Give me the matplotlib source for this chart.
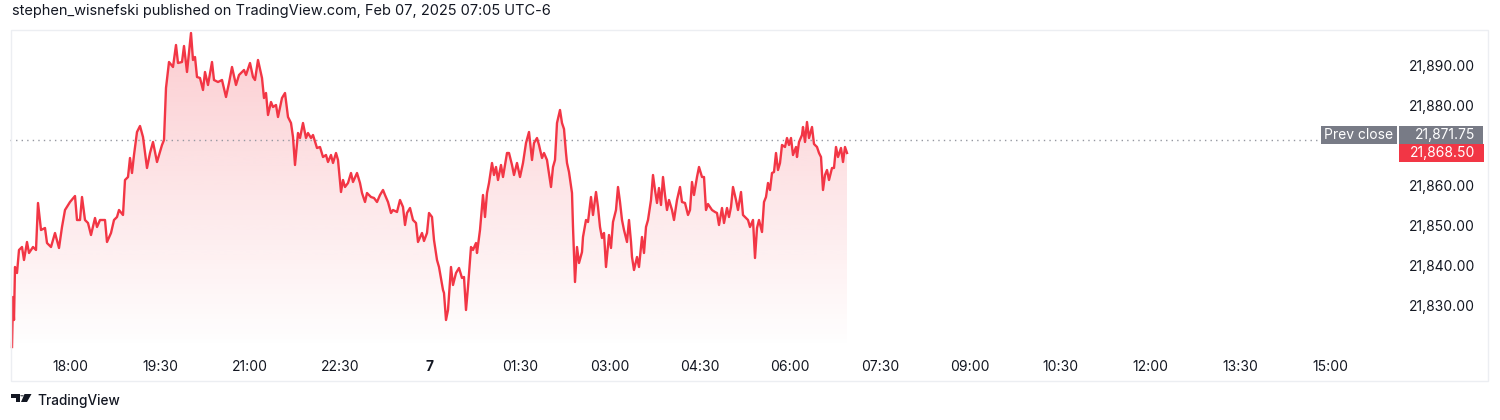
import numpy as np
import matplotlib.pyplot as plt
from matplotlib.patches import Rectangle, Polygon, Circle
from matplotlib.transforms import blended_transform_factory

plt.rcParams['font.family'] = ['Inter', 'DejaVu Sans']

# minutes since 17:00 (Feb 06) and the traded price
minutes = [2, 3, 4, 5, 7, 9, 12, 14, 17, 19, 23, 26, 28, 31, 35, 37, 41, 45, 49, 52,
           55, 60, 65, 67, 70, 72, 75, 78, 81, 85, 87, 90, 95, 97, 101, 104, 107, 109, 113, 115,
           118, 120, 122, 124, 127, 130, 133, 137, 140, 143, 147, 152, 154, 156, 159, 163, 166, 168, 172, 174,
           177, 181, 183, 185, 187, 190, 193, 195, 198, 202, 204, 208, 212, 216, 219, 222, 226, 229, 234, 236,
           240, 243, 245, 248, 252, 254, 256, 258, 261, 263, 266, 268, 272, 275, 278, 281, 283, 285, 288, 290,
           293, 296, 298, 301, 303, 307, 310, 313, 316, 318, 321, 323, 326, 328, 331, 333, 335, 338, 341, 343,
           347, 350, 352, 355, 357, 361, 364, 367, 370, 373, 375, 378, 381, 383, 387, 390, 393, 395, 397, 400,
           403, 406, 408, 412, 414, 417, 419, 422, 424, 427, 429, 433, 434, 436, 438, 441, 443, 446, 449, 452,
           454, 456, 458, 461, 463, 466, 467, 470, 473, 475, 477, 479, 482, 484, 486, 488, 491, 493, 497, 499,
           502, 504, 507, 510, 513, 516, 519, 522, 524, 527, 529, 532, 534, 537, 538, 541, 543, 545, 547, 550,
           552, 554, 556, 557, 559, 562, 563, 565, 567, 569, 572, 573, 576, 578, 581, 583, 586, 588, 590, 592,
           594, 596, 599, 601, 603, 606, 608, 610, 612, 614, 617, 619, 621, 622, 624, 627, 629, 632, 634, 636,
           638, 641, 643, 645, 647, 649, 651, 653, 655, 657, 659, 662, 664, 667, 670, 672, 675, 678, 680, 682,
           684, 687, 689, 692, 694, 696, 698, 702, 705, 707, 709, 712, 714, 717, 719, 721, 723, 726, 728, 731,
           733, 736, 738, 740, 743, 745, 747, 749, 752, 754, 756, 758, 760, 762, 764, 766, 768, 770, 772, 775,
           777, 779, 781, 783, 786, 787, 789, 792, 793, 795, 797, 799, 802, 804, 807, 809, 811, 813, 815, 817,
           819, 822, 824, 826, 828, 831, 833, 835, 837]
price = [21820.0, 21832.5, 21826.75, 21840.0, 21838.5, 21844.25, 21845.0, 21841.75, 21846.25, 21843.5,
         21845.0, 21844.25, 21856.0, 21849.25, 21849.75, 21846.0, 21845.0, 21848.5, 21844.75, 21850.0,
         21854.25, 21856.25, 21857.75, 21851.75, 21851.75, 21857.5, 21851.75, 21851.0, 21848.0, 21852.25,
         21850.0, 21851.75, 21851.75, 21846.25, 21848.5, 21851.75, 21852.5, 21854.25, 21853.0, 21861.75,
         21862.5, 21867.25, 21863.5, 21868.0, 21873.75, 21875.25, 21872.5, 21864.75, 21868.5, 21871.25,
         21866.25, 21870.5, 21871.75, 21884.75, 21891.25, 21890.0, 21895.5, 21891.0, 21891.25, 21895.25,
         21888.75, 21898.5, 21891.75, 21892.5, 21887.5, 21887.25, 21884.25, 21888.75, 21885.5, 21891.25,
         21886.75, 21886.25, 21886.75, 21882.5, 21886.0, 21890.0, 21885.5, 21888.0, 21889.25, 21888.0,
         21891.0, 21887.5, 21886.75, 21891.75, 21887.25, 21882.25, 21883.5, 21878.0, 21881.25, 21880.0,
         21880.5, 21877.5, 21882.25, 21883.5, 21877.5, 21876.0, 21872.5, 21865.5, 21873.5, 21872.25,
         21876.0, 21872.25, 21873.5, 21872.25, 21873.0, 21869.75, 21870.0, 21867.5, 21868.0, 21866.25,
         21868.0, 21866.0, 21868.5, 21866.75, 21858.75, 21861.75, 21860.0, 21861.0, 21863.5, 21861.25,
         21863.5, 21861.0, 21858.5, 21856.25, 21858.5, 21857.5, 21857.25, 21856.25, 21858.0, 21859.25,
         21858.0, 21856.25, 21853.5, 21854.25, 21853.75, 21856.75, 21855.0, 21850.5, 21853.5, 21854.75,
         21851.75, 21851.0, 21846.25, 21848.5, 21846.5, 21848.5, 21853.5, 21852.5, 21846.75, 21841.75,
         21840.0, 21834.25, 21833.5, 21826.75, 21829.25, 21840.0, 21835.5, 21838.5, 21839.75, 21837.25,
         21837.5, 21829.25, 21835.0, 21845.0, 21844.25, 21846.0, 21843.5, 21849.25, 21858.0, 21852.5,
         21858.5, 21861.0, 21866.0, 21863.0, 21865.0, 21861.75, 21865.5, 21862.5, 21868.5, 21868.5,
         21865.5, 21863.0, 21866.0, 21862.5, 21866.0, 21871.0, 21873.75, 21866.75, 21871.0, 21872.25,
         21870.5, 21867.25, 21868.5, 21866.75, 21865.0, 21860.0, 21865.0, 21866.75, 21876.0, 21879.25,
         21876.0, 21874.5, 21868.5, 21866.0, 21863.75, 21858.5, 21850.0, 21836.25, 21845.0, 21841.0,
         21843.75, 21847.5, 21851.75, 21851.25, 21857.5, 21853.0, 21858.75, 21855.0, 21850.0, 21847.25,
         21848.5, 21840.0, 21848.0, 21844.75, 21851.25, 21854.25, 21860.0, 21856.25, 21851.75, 21849.25,
         21846.25, 21851.75, 21846.25, 21842.5, 21839.25, 21842.5, 21840.0, 21847.5, 21843.5, 21850.0,
         21851.75, 21856.75, 21863.0, 21859.25, 21856.0, 21859.75, 21855.5, 21862.5, 21858.0, 21854.25,
         21856.75, 21854.25, 21851.75, 21856.75, 21860.0, 21856.25, 21856.0, 21853.0, 21854.25, 21861.25,
         21858.0, 21862.5, 21865.0, 21862.5, 21862.5, 21854.25, 21855.75, 21854.25, 21853.75, 21853.5,
         21850.5, 21854.75, 21851.0, 21854.75, 21852.5, 21855.0, 21860.0, 21856.75, 21854.25, 21858.75,
         21853.0, 21852.25, 21851.75, 21850.0, 21851.75, 21842.25, 21849.75, 21851.75, 21848.75, 21856.25,
         21857.5, 21861.0, 21859.25, 21863.5, 21863.75, 21868.5, 21864.25, 21866.0, 21870.5, 21870.0,
         21872.25, 21870.5, 21872.25, 21868.0, 21870.0, 21867.5, 21871.25, 21873.0, 21875.0, 21871.25,
         21876.25, 21872.25, 21875.0, 21870.75, 21870.0, 21868.5, 21867.5, 21859.25, 21863.0, 21864.25,
         21861.75, 21864.75, 21864.75, 21870.0, 21867.5, 21869.75, 21866.25, 21870.0, 21868.5]

prev_close = 21871.75
last_price = 21868.50
price_ticks = [21830, 21840, 21850, 21860, 21880, 21890]  # 21870 sits behind the labels
time_ticks = [60, 150, 240, 330, 420, 510, 600, 690, 780, 870, 960, 1050, 1140, 1230, 1320]
time_labels = ['18:00', '19:30', '21:00', '22:30', '7', '01:30', '03:00', '04:30', '06:00',
               '07:30', '09:00', '10:30', '12:00', '13:30', '15:00']

RED = '#F23645'
TXT = '#131722'
GREY = '#787B86'
W, H = 1500, 420


def fx(px):
    return px / W


def fy(py):
    return 1 - py / H


fig = plt.figure(figsize=(15, 4.2), dpi=100)
fig.patch.set_facecolor('white')

ax = fig.add_axes([fx(10), fy(349), fx(1397) - fx(10), fy(30) - fy(349)])
ylo, yhi = 21819.5, 21899.25
ax.set_xlim(0, 1387)
ax.set_ylim(ylo, yhi)
ax.axis('off')

# gradient fill under the line
verts = np.vstack([[minutes[0], ylo], np.column_stack([minutes, price]), [minutes[-1], ylo]])
clip = Polygon(verts, closed=True, facecolor='none', edgecolor='none')
ax.add_patch(clip)
grad = np.zeros((256, 1, 4))
grad[:, 0, 0] = 242 / 255
grad[:, 0, 1] = 54 / 255
grad[:, 0, 2] = 69 / 255
grad[:, 0, 3] = np.linspace(0.0, 0.25, 256)
im = ax.imshow(grad, extent=[minutes[0], minutes[-1], ylo, max(price)],
               aspect='auto', origin='lower', zorder=1, interpolation='bicubic')
im.set_clip_path(clip)

ax.plot(minutes, price, color=RED, lw=1.7, solid_joinstyle='round', zorder=3)

# prev close dotted line
ax.plot([0, 1311], [prev_close, prev_close], color='#9598A1', lw=1,
        linestyle=(0, (1, 3)), zorder=2)

# price scale
tr = blended_transform_factory(ax.transAxes, ax.transData)
x_lab = (1475 - 10) / 1387
for t in price_ticks:
    ax.text(x_lab, t, f'{t:,.2f}', transform=tr, ha='right', va='center',
            fontsize=10, color=TXT)

# time axis
for t, lab in zip(time_ticks, time_labels):
    fig.text(fx(10 + t), fy(367), lab, ha='center', va='center', fontsize=10,
             color=TXT, fontweight='bold' if lab == '7' else 'normal')

# prev close labels (stacked above the last price label)
fig.add_artist(Rectangle((fx(1321), fy(144)), fx(1397) - fx(1321), fy(126) - fy(144),
                         transform=fig.transFigure, facecolor=GREY, edgecolor='none'))
fig.text(fx(1359), fy(135), 'Prev close', ha='center', va='center', fontsize=10, color='white')
fig.add_artist(Rectangle((fx(1399), fy(144)), fx(1483) - fx(1399), fy(126) - fy(144),
                         transform=fig.transFigure, facecolor=GREY, edgecolor='none'))
fig.text(fx(1475), fy(135), f'{prev_close:,.2f}', ha='right', va='center', fontsize=10, color='white')

# last price label
fig.add_artist(Rectangle((fx(1399), fy(162)), fx(1484) - fx(1399), fy(144) - fy(162),
                         transform=fig.transFigure, facecolor=RED, edgecolor='none'))
fig.text(fx(1475), fy(153), f'{last_price:,.2f}', ha='right', va='center', fontsize=10, color='white')

# outer frame
fig.add_artist(Rectangle((fx(10.5), fy(380.5)), fx(1487.5) - fx(10.5), fy(29.5) - fy(380.5),
                         transform=fig.transFigure, facecolor='none', edgecolor='#ECEEF2', lw=1))

# header
fig.text(fx(12), fy(11), 'stephen_wisnefski published on TradingView.com, Feb 07, 2025 07:05 UTC-6',
         ha='left', va='center', fontsize=10.5, color=TXT)

# footer logo
for shape in [
    Polygon([(fx(11), fy(394)), (fx(19.5), fy(394)), (fx(19.5), fy(402)), (fx(15.5), fy(402)),
             (fx(15.5), fy(397.5)), (fx(11), fy(397.5))], closed=True),
    Polygon([(fx(24.5), fy(394)), (fx(31.5), fy(394)), (fx(27), fy(402)), (fx(21), fy(402))], closed=True),
]:
    shape.set_transform(fig.transFigure)
    shape.set_facecolor(TXT)
    shape.set_edgecolor('none')
    fig.add_artist(shape)
fig.add_artist(Circle((fx(22), fy(395.8)), 1.8 / W, transform=fig.transFigure,
                      facecolor=TXT, edgecolor='none'))
fig.text(fx(37), fy(401), 'TradingView', ha='left', va='center', fontsize=9.8,
         color=TXT, fontweight='medium')

fig.savefig('out.png', dpi=100)
